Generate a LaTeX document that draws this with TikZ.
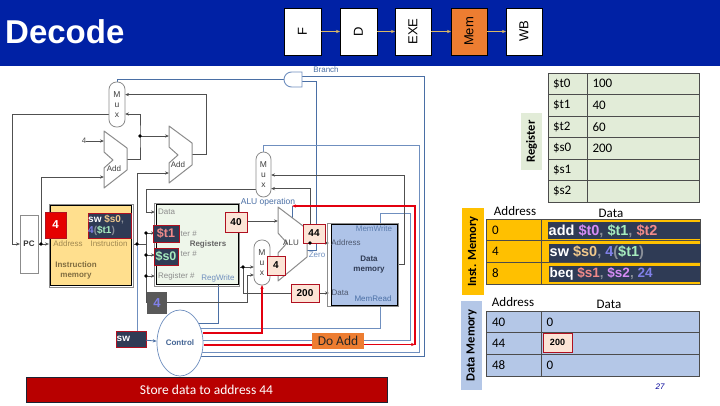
\documentclass[tikz,border=0pt]{standalone}
\usepackage{fontspec}
\usepackage{graphicx}
\setmainfont{Liberation Sans}
\newfontfamily\calib{Carlito}
\usetikzlibrary{arrows.meta,shapes.geometric}
\definecolor{hdr}{HTML}{0021A5}
\definecolor{wirec}{HTML}{505050}
\definecolor{bluew}{HTML}{6F8FBF}
\definecolor{blued}{HTML}{4A6FA5}
\definecolor{redw}{HTML}{E3000F}
\definecolor{peach}{HTML}{FCE4D6}
\definecolor{darkb}{HTML}{2F3B55}
\definecolor{bordr}{HTML}{B01020}
\definecolor{cpink}{HTML}{F08A8A}
\definecolor{cgreen}{HTML}{A6EBBE}
\definecolor{cpurp}{HTML}{D68CF5}
\definecolor{ctan}{HTML}{F0C88C}
\definecolor{cperi}{HTML}{8080E8}
\definecolor{cgray}{HTML}{8A8F99}
\definecolor{tanx}{HTML}{A08850}
\definecolor{grayx}{HTML}{8C8C8C}
\definecolor{tblgreen}{HTML}{E2ECD8}
\definecolor{tblblue}{HTML}{B4C7E7}
\definecolor{tblorange}{HTML}{FFC000}
\definecolor{orangeb}{HTML}{ED7D31}
\definecolor{arrowtan}{HTML}{D9B866}
\definecolor{HTMLyellow}{HTML}{FFDF8E}
\definecolor{HTMLregs}{HTML}{EEF6EA}
\definecolor{HTMLdm}{HTML}{AEC3E8}
\definecolor{HTMLban}{HTML}{B80000}
\newcommand{\fsz}[1]{\fontsize{#1}{#1}\selectfont}
\newcommand{\boxat}[7]{%
  \pgfmathsetmacro{\bw}{#4-#2}\pgfmathsetmacro{\bh}{#5-#3}%
  \pgfmathsetmacro{\bcx}{(#2+#4)/2}\pgfmathsetmacro{\bcy}{(#3+#5)/2}%
  \node[#6,minimum width=\bw pt,minimum height=\bh pt,inner sep=0pt,outer sep=0pt] (#1) at (\bcx,\bcy) {#7};}
\tikzset{
  x=1pt,y=-1pt,
  tip/.style={-{Stealth[length=4pt,width=3.2pt]}},
  wire/.style={draw=wirec,line width=.9pt},
  bwire/.style={draw=bluew,line width=.8pt},
  dwire/.style={draw=blued,line width=.8pt},
  rwire/.style={draw=redw,line width=1.6pt},
  dot/.style={circle,fill=black,minimum size=3.6pt,inner sep=0pt},
  muxbox/.style={draw=grayx,fill=white,rounded corners=7.5pt,line width=.8pt,align=center,font=\fsz{8.5},text=black!75},
  pipe/.style={draw=black,fill=white,line width=.6pt,font=\fsz{13}},
  val/.style={draw=bordr,fill=peach,line width=.9pt,font=\bfseries\fsz{10}},
  dark/.style={draw=bordr,fill=darkb,line width=.9pt},
  lab/.style={font=\fsz{8},text=grayx,inner sep=0pt},
  blab/.style={font=\fsz{8},text=blued,inner sep=0pt},
  unit/.style={draw=grayx,line width=1pt},
  gcell/.style={draw=black!70,fill=tblgreen,line width=.7pt,align=left,font=\calib\fsz{13}},
  ocell/.style={draw=black!70,fill=tblorange,line width=.7pt,align=left,font=\calib\fsz{13}},
  ucell/.style={draw=black!70,fill=tblblue,line width=.7pt,align=left,font=\calib\fsz{13}},
  head/.style={font=\calib\fsz{13},inner sep=0pt},
  codetxt/.style={inner sep=0pt,anchor=west,font=\bfseries\fsz{14.5},text=white},
}
\begin{document}
\begin{tikzpicture}
\useasboundingbox (0,0) rectangle (720,405);
\fill[white] (0,0) rectangle (720,405);
\fill[hdr] (0,0) rectangle (720,66);
\node[anchor=west,inner sep=0pt,text=white,font=\bfseries\fsz{33}] (title) at (5,32) {Decode};
% pipeline
\boxat{pF}{284}{8}{321}{55}{pipe}{\rotatebox{90}{F}}
\boxat{pD}{340}{8}{377}{55}{pipe}{\rotatebox{90}{D}}
\boxat{pE}{395}{8}{431}{55}{pipe}{\rotatebox{90}{EXE}}
\boxat{pM}{451}{8}{487}{55}{pipe,fill=orangeb}{\rotatebox{90}{Mem}}
\boxat{pW}{506}{8}{542}{55}{pipe}{\rotatebox{90}{WB}}
\foreach \a/\b in {pF/pD,pD/pE,pE/pM,pM/pW}
  \draw[draw=arrowtan,line width=.9pt,tip] (\a) -- (\b);
% coordinates
\coordinate (jAdd) at (140,136);
\coordinate (jPC) at (41,244);
\coordinate (jIn) at (137,244);
\coordinate (jR2) at (243,267);
\coordinate (jALU) at (310,243);
\coordinate (a1in) at (104,177);
\coordinate (a2in) at (169,173);
\coordinate (a1out) at (127,159);
\coordinate (a2out) at (192,154);
\coordinate (cZ) at (307,250);
% blue wires
\draw[dwire] (284,79) -- (117,79) -- (117,83);
\draw[dwire] (302,76) -- (424,76) -- (424,356) -- (195,356);
\draw[dwire] (302,81) -- (316,81) -- (316,250) -- (cZ);
\draw[bwire] (195,352) -- (419,352) -- (419,145) -- (263,145) -- (263,153);
\draw[bwire] (195,340) -- (410,340) -- (410,213) -- (380,213) -- (380,224);
\draw[bwire] (195,328) -- (380,328) -- (380,305);
\draw[dwire] (218,285) -- (218,323) -- (195,323);
\draw[dwire] (292,206) -- (292,219);
\draw[bwire] (jIn) -- (137,331);
% dark wires
\draw[wire,tip] (a1out) -| (jAdd) |- (125,114);
\draw[wire,tip] (jAdd) -- (169,136);
\draw[wire,tip] (a2out) -| (206,94.6) -- (125,94.6);
\draw[wire,tip] (109,114) -- (12,114) |- (20,244);
\node[inner sep=0pt,font=\fsz{8},text=black!70] (four) at (84,141) {4};
\draw[wire,tip] (four) -- (104,141);
\draw[wire,tip] (38,244) -- (49,244);
\draw[wire,tip] (jPC) |- (a1in);
\draw[wire] (133,244) -- (146,244);
\draw[wire,tip] (jIn) |- (a2in);
\draw[wire,tip] (256,189) -- (146,189) |- (155,212);
\draw[wire] (146,233) -- (146,302) -- (247,302) -- (247,275);
\draw[wire,tip] (247,275) -- (254,275);
\draw[wire,tip] (146,233) -- (155,233);
\draw[wire,tip] (146,255) -- (155,255);
\draw[wire,tip] (146,276) -- (155,276);
\draw[wire,tip] (239,267) -- (254,267);
\draw[wire,tip] (jR2) |- (329,293);
\draw[wire,tip] (jALU) |- (271,188.6);
\draw[wire,tip] (307,243) -- (329,243);
\draw[wire,tip] (397,264) -- (404,264) |- (271,175);
\draw[wire,tip] (240,221) -- (278,221);
% adders + ALU
\draw[unit,fill=white,line join=round] (104,131) -- (127,148) -- (127,170) -- (104,188) -- (104,168) -- (113,160) -- (104,152) -- cycle;
\node[inner sep=0pt,font=\fsz{8},text=black!75] (add1) at (114,169) {Add};
\draw[unit,fill=white,line join=round] (169,126) -- (192,143) -- (192,165) -- (169,183) -- (169,163) -- (178,155) -- (169,147) -- cycle;
\node[inner sep=0pt,font=\fsz{8},text=black!75] (add2) at (178,165) {Add};
\draw[unit,fill=white,line join=round] (278,207) -- (307,229) -- (307,257) -- (278,281) -- (278,253) -- (287,243) -- (278,233) -- cycle;
\node[inner sep=0pt,font=\fsz{8},text=black!75] (alu) at (291,243) {ALU};
% muxes
\boxat{mux1}{109}{82}{125}{127}{muxbox}{M\\[1.5pt]u\\[1.5pt]x}
\boxat{mux2}{256}{152}{271}{197}{muxbox}{M\\[1.5pt]u\\[1.5pt]x}
\boxat{mux3}{254}{240}{270}{285}{muxbox}{M\\[1.5pt]u\\[1.5pt]x}
% and gate
\draw[draw=bluew,fill=white,line width=.9pt] (302,72) -- (291.5,72) arc[start angle=270,end angle=90,radius=7.5] -- (302,87) -- cycle;
\node[blab] (branch) at (326,69.5) {Branch};
% PC
\boxat{pc}{20}{215}{38}{273}{unit,fill=white}{\bfseries\fsz{8}\textcolor{black!80}{PC}}
% Instruction memory
\boxat{imo}{49}{204}{133}{287}{unit}{}
\boxat{im}{50.5}{205.5}{131.5}{285.5}{draw=black,fill=HTMLyellow,line width=.8pt}{}
\node[lab,text=tanx] (tAddr) at (68,244) {Address};
\node[lab,text=tanx] (tInstr) at (109,244) {Instruction};
\node[inner sep=0pt,align=center,font=\bfseries\fsz{8},text=tanx!80!black] (tIM) at (76,270) {Instruction\\[2pt]memory};
% Registers
\boxat{rgo}{154}{203}{239.5}{286}{unit}{}
\boxat{rg}{156}{204.5}{238}{284.5}{draw=black,fill=HTMLregs,line width=.8pt}{}
\node[lab,anchor=west] (tData) at (158,212) {Data};
\node[lab,anchor=west] (tR1) at (180.5,234) {ter \#};
\node[lab,anchor=west] (tR2) at (180.5,254) {ter \#};
\node[lab,anchor=west] (tR3) at (158,276) {Register \#};
\node[inner sep=0pt,font=\bfseries\fsz{8},text=black!60] (tRegs) at (208,244) {Registers};
\node[lab,text=bluew] (tRW) at (218,278) {RegWrite};
% Data memory
\boxat{dmo}{327}{223}{398}{306}{unit}{}
\boxat{dm}{331}{224.5}{397}{305}{draw=black,fill=HTMLdm,line width=.8pt}{}
\node[blab,text=blued!90] (tMW) at (374,229) {MemWrite};
\node[blab,text=darkb!85] (tDA) at (346,243) {Address};
\node[inner sep=0pt,align=center,font=\bfseries\fsz{8},text=darkb] (tDM) at (369,265) {Data\\[2pt]memory};
\node[blab,text=darkb!85] (tDD) at (340,293) {Data};
\node[blab] (tMR) at (373,299) {MemRead};
\node[blab,text=bluew] (tZero) at (317,255) {Zero};
\node[blab,font=\fsz{8.5}] (tALUop) at (268,202) {ALU operation};
% control
\node[draw=bluew,fill=white,ellipse,minimum width=46pt,minimum height=66pt,inner sep=0pt,line width=.7pt] (ctl) at (180,343) {\bfseries\fsz{8}\textcolor{blued!90!black}{Control}};
% red wires
\draw[rwire,tip] (203,333) -| (mux3.south);
\draw[rwire] (204,345) -- (312,345);
\boxat{doadd}{312}{333}{364}{349}{fill=orangeb}{\raisebox{-2.5pt}{\calib\fsz{13.5}\textcolor{black!85}{Do Add}}}
\draw[rwire,tip] (364,344.5) -- (415,344.5);
\draw[rwire,tip] (415,345) -- (415,206) -- (292,206);
% value boxes
\boxat{v40}{225}{212}{247}{232}{val}{40}
\boxat{v44}{303}{224}{325}{243}{val}{44}
\boxat{v4}{267}{256}{285}{275}{val}{4}
\boxat{v200}{291}{284}{319}{302}{val}{200}
\boxat{vt1}{153}{225}{179}{242}{dark}{\bfseries\fsz{12.5}\textcolor{cpink}{\$t1}}
\boxat{vs0}{154}{248}{178}{265}{dark}{\bfseries\fsz{12.5}\textcolor{cgreen}{\$s0}}
\boxat{vImm}{147}{292}{167}{314}{fill=black!65}{\bfseries\fsz{13}\textcolor{cperi}{4}}
\boxat{vPC}{45}{212}{66}{238}{draw=bordr,fill=red!90!black,line width=.8pt}{\bfseries\fsz{11.5}\textcolor{white}{4}}
\boxat{vIn}{88}{213}{131}{238}{dark}{}
\node[inner sep=0pt,anchor=north west,align=left,font=\bfseries\fsz{10}] (vInT) at (88,214.5) {\textcolor{white}{sw} \textcolor{ctan}{\$s0}\textcolor{cgray}{,}\\[1pt]\textcolor{cperi}{4}\textcolor{cgray}{(}\textcolor{cgreen}{\$t1}\textcolor{cgray}{)}};
\boxat{vSW}{116}{331}{146}{347}{dark}{}
\node[inner sep=0pt,anchor=west,font=\bfseries\fsz{10},text=white] (vSWt) at (116.5,339) {sw};
\draw[dwire,tip] (vSW) -- (ctl);
% dots
\foreach \n/\p in {d1/jAdd,d2/jPC,d3/jIn,d4/jR2,d5/jALU}
  \node[dot] (\n) at (\p) {};
\node[dot] (d6) at (146,233) {};
\node[dot] (d7) at (146,255) {};
\node[dot] (d8) at (146,276) {};
% banner
\boxat{banner}{26}{377}{387}{402}{fill=HTMLban,draw=darkb!60!black,line width=.5pt}{\calib\fsz{13.5}\textcolor{white}{Store data to address 44}}
% register table
\boxat{lReg}{521}{113}{542}{170}{fill=tblgreen}{\rotatebox{90}{\calib\bfseries\fsz{12.5}Register}}
\foreach \i/\n/\v in {0/\$t0/100,1/\$t1/40,2/\$t2/60,3/\$s0/200,4/\$s1/,5/\$s2/}{
  \pgfmathsetmacro{\ya}{73+21.5*\i}\pgfmathsetmacro{\yb}{\ya+21.5}
  \boxat{rl\i}{548}{\ya}{587}{\yb}{gcell,text width=29pt}{\n}
  \boxat{rv\i}{587}{\ya}{699}{\yb}{gcell,text width=101pt}{\v}
}
% inst memory
\boxat{lIM}{462}{208}{484}{295}{fill=tblorange}{\rotatebox{90}{\calib\bfseries\fsz{12.5}Inst. Memory}}
\node[head] (hA1) at (515,211) {Address};
\node[head] (hD1) at (611,213) {Data};
\foreach \i/\n in {0/0,1/4,2/8}{
  \pgfmathsetmacro{\ya}{219+21.67*\i}\pgfmathsetmacro{\yb}{\ya+21.67}
  \boxat{il\i}{486}{\ya}{541}{\yb}{ocell,text width=43pt}{\n}
  \boxat{iv\i}{541}{\ya}{700}{\yb}{ocell}{}
}
\boxat{c0}{548}{222}{700}{239}{fill=darkb}{}
\boxat{c1}{549}{244}{701}{262}{fill=darkb}{}
\boxat{c2}{549}{266}{700}{282}{fill=darkb}{}
\node[codetxt] (t0) at (548.5,231) {add \textcolor{cpurp}{\$t0}\textcolor{cgray}{,} \textcolor{cgreen}{\$t1}\textcolor{cgray}{,} \textcolor{cpink}{\$t2}};
\node[codetxt] (t1) at (549.5,253) {sw \textcolor{ctan}{\$s0}\textcolor{cgray}{,} \textcolor{cperi}{4}\textcolor{cgray}{(}\textcolor{cgreen}{\$t1}\textcolor{cgray}{)}};
\node[codetxt,font=\bfseries\fsz{13.5}] (t2) at (549.5,274) {beq \textcolor{cpink}{\$s1}\textcolor{cgray}{,} \textcolor{cpurp}{\$s2}\textcolor{cgray}{,} \textcolor{cperi}{24}};
% data memory
\boxat{lDM}{461}{301}{482}{390}{fill=tblblue}{\rotatebox{90}{\calib\bfseries\fsz{12.5}Data Memory}}
\node[head] (hA2) at (513,302) {Address};
\node[head] (hD2) at (609,304) {Data};
\foreach \i/\n/\v in {0/40/0,1/44/,2/48/0}{
  \pgfmathsetmacro{\ya}{311+21.67*\i}\pgfmathsetmacro{\yb}{\ya+21.67}
  \boxat{dl\i}{486}{\ya}{541}{\yb}{ucell,text width=43pt}{\n}
  \boxat{dv\i}{541}{\ya}{699}{\yb}{ucell,text width=147pt}{\v}
}
\boxat{v200b}{543}{333}{572}{352}{val,font=\bfseries\fsz{9}}{200}
\node[inner sep=0pt,font=\itshape\fsz{8},text=blue!60!black] (pgn) at (660,387) {27};
\end{tikzpicture}
\end{document}
